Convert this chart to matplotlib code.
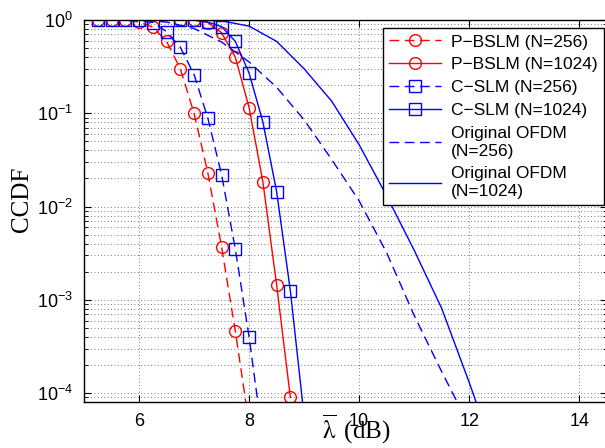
import matplotlib
matplotlib.use("Agg")
import matplotlib.pyplot as plt
from matplotlib.ticker import LogLocator, NullFormatter, FixedLocator

plt.rcParams["font.family"] = ["Liberation Sans", "DejaVu Sans"]
plt.rcParams["mathtext.fontset"] = "stix"

# P-BSLM, N=256 (red dashed, circles)
x_bslm_256 = [5.25, 5.5, 5.75, 6.0, 6.25, 6.5, 6.75, 7.0, 7.25, 7.5, 7.75, 8.0]
ccdf_bslm_256 = [1.0, 1.0, 1.0, 0.95, 0.84, 0.59, 0.30, 0.10, 0.023, 0.0037, 4.6e-4, 4.7e-5]

# P-BSLM, N=1024 (red solid, circles)
x_bslm_1024 = [6.75, 7.0, 7.25, 7.5, 7.75, 8.0, 8.25, 8.5, 8.75]
ccdf_bslm_1024 = [1.0, 1.0, 0.94, 0.73, 0.40, 0.115, 0.0185, 1.45e-3, 9e-5]

# C-SLM, N=256 (blue dashed, squares)
x_cslm_256 = [5.25, 5.5, 5.75, 6.0, 6.25, 6.5, 6.75, 7.0, 7.25, 7.5, 7.75, 8.0, 8.25]
ccdf_cslm_256 = [1.0, 1.0, 1.0, 0.99, 0.94, 0.75, 0.51, 0.26, 0.089, 0.022, 0.0035, 4.0e-4, 3.2e-5]

# C-SLM, N=1024 (blue solid, squares)
x_cslm_1024 = [6.75, 7.0, 7.25, 7.5, 7.75, 8.0, 8.25, 8.5, 8.75, 9.0]
ccdf_cslm_1024 = [1.0, 1.0, 0.95, 0.85, 0.59, 0.27, 0.081, 0.0145, 1.25e-3, 5.6e-5]

# original OFDM curves
x_orig = [5.0, 5.5, 6.0, 6.5, 7.0, 7.5, 8.0, 8.5, 9.0, 9.5, 10.0, 10.5, 11.0, 11.5, 12.0, 12.5]
ccdf_orig_256 = [1.0, 1.0, 1.0, 0.95, 0.81, 0.58, 0.355, 0.19, 0.085, 0.032, 0.0115,
                 3.2e-3, 6.8e-4, 1.7e-4, 4.5e-5, 1e-5]
ccdf_orig_1024 = [1.0, 1.0, 1.0, 1.0, 1.0, 0.98, 0.86, 0.59, 0.30, 0.135, 0.046,
                  0.013, 3.4e-3, 8.1e-4, 1.3e-4, 1.9e-5]

x_ticks = [6, 8, 10, 12, 14]

fig = plt.figure(figsize=(6.05, 4.48), dpi=100)
ax = fig.add_axes([84 / 605, 46.3 / 448, 522.8 / 605, 381.7 / 448])

dash = (7, 4)
mk = dict(markersize=8.5, markerfacecolor="none", markeredgewidth=1.0)
ax.plot(x_bslm_256, ccdf_bslm_256, color="r", dashes=dash, marker="o", lw=1.0,
        label="P\u2212BSLM (N=256)", **mk)
ax.plot(x_bslm_1024, ccdf_bslm_1024, color="r", ls="-", marker="o", lw=1.0,
        label="P\u2212BSLM (N=1024)", **mk)
mk["markersize"] = 8
ax.plot(x_cslm_256, ccdf_cslm_256, color="b", dashes=dash, marker="s", lw=1.0,
        label="C\u2212SLM (N=256)", **mk)
ax.plot(x_cslm_1024, ccdf_cslm_1024, color="b", ls="-", marker="s", lw=1.0,
        label="C\u2212SLM (N=1024)", **mk)
ax.plot(x_orig, ccdf_orig_256, color="b", dashes=dash, lw=1.0,
        label="Original OFDM\n(N=256)")
ax.plot(x_orig, ccdf_orig_1024, color="b", ls="-", lw=1.0,
        label="Original OFDM\n(N=1024)")

ax.set_yscale("log")
ax.set_xlim(5, 14.5)
ax.set_ylim(8.1e-5, 1)
ax.xaxis.set_major_locator(FixedLocator(x_ticks))
ax.yaxis.set_major_locator(LogLocator(base=10, numticks=10))
ax.yaxis.set_minor_locator(LogLocator(base=10, subs=range(2, 10), numticks=10))
ax.yaxis.set_minor_formatter(NullFormatter())

ax.tick_params(which="both", direction="in", top=True, right=True, labelsize=13, pad=8)
ax.tick_params(which="major", length=5, width=0.8)
ax.tick_params(which="minor", length=3, width=0.6)
ax.grid(True, which="major", color="0.3", ls=(0, (1, 3)), lw=0.6)
ax.grid(True, which="minor", axis="y", color="0.3", ls=(0, (1, 3)), lw=0.6)
for s in ax.spines.values():
    s.set_linewidth(1.0)

ax.set_ylabel("CCDF", family="Liberation Serif", fontsize=18)
ax.yaxis.set_label_coords(-0.098, 0.53)
ax.set_xlabel(r"$\overline{\mathrm{\lambda}}\,$ (dB)", family="Liberation Serif", fontsize=18)
ax.xaxis.set_label_coords(0.52, -0.03)

leg = ax.legend(loc="upper right", bbox_to_anchor=((604 - 84) / 522.8, 1 - 8.3 / 381.7),
                borderaxespad=0, fontsize=12.5, handlelength=3.0, labelspacing=0.45,
                fancybox=False, framealpha=1, edgecolor="k", borderpad=0.35, handletextpad=0.6)
leg.get_frame().set_linewidth(1.0)

fig.savefig("out.png", dpi=100)
